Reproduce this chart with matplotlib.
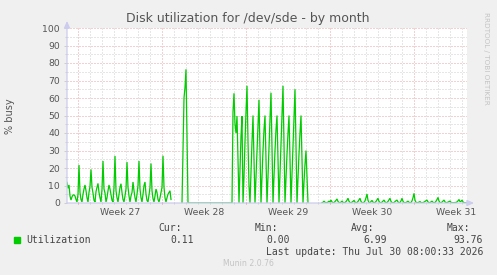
import numpy as np
import matplotlib
matplotlib.use("Agg")
import matplotlib.pyplot as plt
import matplotlib.transforms as mtransforms

# ---------------- data (2-hour consolidated samples, % busy) ----------------
step_hours = 2
start_hour = -22          # first sample, hours relative to start of Week 27

seg_week27 = [
    11.8, 8.4, 10.3, 4.0, 1.7, 3.5, 4.6, 4.6, 4.0, 2.0, 0.6, 5.0,
    21.7, 6.0, 2.0, 0.6, 5.0, 8.0, 10.3, 7.0, 3.0, 0.6, 6.0, 9.5,
    19.2, 9.0, 5.7, 1.5, 0.6, 6.5, 9.0, 11.2, 6.0, 3.0, 0.6, 8.0,
    24.0, 8.0, 5.7, 0.6, 3.0, 7.0, 10.3, 8.0, 4.6, 1.5, 0.6, 9.0,
    26.9, 7.0, 3.0, 0.6, 5.0, 9.0, 11.0, 6.0, 2.0, 0.6, 4.0, 8.0,
    23.4, 9.0, 4.0, 0.6, 4.0, 6.0, 12.0, 7.0, 3.0, 0.6, 5.0, 10.0,
    24.0, 8.0, 3.0, 0.6, 5.0, 10.0, 12.0, 5.0, 1.5, 0.6, 4.5, 9.0,
    22.6, 7.0, 2.5, 0.6, 4.0, 8.0, 6.0, 2.0, 0.6, 3.0, 6.0, 9.0,
    27.0, 9.0, 3.0, 0.6, 3.0, 5.0, 6.0, 7.0, 2.0,
]
gap_1 = [np.nan] * 10
seg_week28 = [0.0, 30.0, 60.0, 66.0, 76.4, 38.0, 0.0] + [0.0] * 43
seg_week29 = [
    0.0, 52.0, 62.7, 45.0, 40.0, 49.7, 25.0,
    0.0, 20.0, 38.0, 49.7,
    0.0, 15.0, 35.0, 52.0, 67.0, 35.0, 10.0,
    0.0, 18.0, 35.0, 50.0, 25.0,
    0.0, 15.0, 30.0, 45.0, 59.0, 30.0,
    0.0, 15.0, 30.0, 42.0, 50.0, 25.0,
    0.0, 15.0, 32.0, 48.0, 63.0, 32.0,
    0.0, 15.0, 30.0, 42.0, 50.0, 25.0,
    0.0, 17.0, 34.0, 50.0, 67.0, 34.0,
    0.0, 14.0, 28.0, 40.0, 50.0, 25.0,
    0.0, 16.0, 33.0, 49.0, 65.0, 32.0,
    0.0, 14.0, 28.0, 40.0, 50.0, 25.0,
    0.0, 12.0, 22.0, 30.0, 15.0, 0.0,
]
gap_2 = [np.nan] * 13
seg_week30_31 = [
    0.2, 0.4, 1.1, 0.4, 0.2, 0.3, 0.5, 1.1, 0.5, 1.7, 0.6, 0.2,
    0.3, 0.8, 1.5, 2.3, 0.9, 0.3, 0.2, 0.5, 1.1, 0.4, 0.2, 0.3,
    0.8, 1.6, 2.7, 1.0, 0.3, 0.2, 0.5, 0.9, 1.5, 0.5, 0.2, 0.3,
    0.9, 1.8, 2.7, 0.9, 0.3, 0.2, 0.4, 1.2, 3.0, 5.1, 1.5, 0.3,
    0.2, 0.8, 1.5, 0.5, 0.2, 0.3, 0.9, 1.8, 2.7, 0.9, 0.3, 0.2,
    0.5, 1.1, 1.7, 0.6, 0.2, 0.3, 0.9, 1.8, 2.7, 0.9, 0.3, 0.2,
    0.3, 0.8, 1.3, 1.7, 0.6, 0.2, 0.3, 1.2, 2.7, 1.0, 0.3, 0.2,
    0.3, 0.6, 1.1, 0.4, 0.2, 0.3, 1.2, 3.0, 5.5, 1.6, 0.4, 0.2,
    0.3, 0.5, 0.8, 0.3, 0.2, 0.3, 0.5, 0.9, 1.3, 1.7, 0.6, 0.2,
    0.3, 0.6, 1.1, 0.4, 0.2, 0.3, 1.0, 2.0, 3.2, 1.1, 0.3, 0.2,
    0.5, 1.1, 1.7, 0.6, 0.2, 0.3, 0.5, 0.8, 1.1, 0.4, 0.2, 0.2,
    0.2, 0.3, 0.3, 0.6, 1.2, 2.0, 0.8, 0.9, 1.7, 0.6, 0.2, 0.1,
    0.1, 0.11,
]

week_labels = ["Week 27", "Week 28", "Week 29", "Week 30", "Week 31"]
week_starts = [0, 168, 336, 504, 672]      # hours
y_ticks = list(range(0, 101, 10))

series_name = "Utilization"
stat_names = ["Cur:", "Min:", "Avg:", "Max:"]
stat_values = ["0.11", "0.00", "6.99", "93.76"]
last_update = "Last update: Thu Jul 30 08:00:33 2026"

values = np.array(seg_week27 + gap_1 + seg_week28 + seg_week29 + gap_2 + seg_week30_31, dtype=float)
hours = start_hour + step_hours * np.arange(len(values))

# ---------------- figure ----------------
W, H = 497, 275
fig = plt.figure(figsize=(W / 100, H / 100), dpi=100, facecolor="#f0f0f0")
ax = fig.add_axes([67 / W, 72 / H, 400 / W, 175 / H])
ax.set_facecolor("white")

ax.plot(hours, values, color="#00cc00", lw=0.9, solid_joinstyle="miter", zorder=3)

ax.set_xlim(hours[0], hours[-1])
ax.set_ylim(0, 100)

# grid
ax.set_xticks(week_starts)
ax.set_xticks(np.arange(0, hours[-1] + 1, 24) , minor=True)
ax.set_xticklabels([])
ax.set_yticks(y_ticks)
ax.set_yticks(np.arange(5, 100, 10), minor=True)
ax.set_yticklabels([str(v) for v in y_ticks], fontsize=6.7, color="#555555")

ax.grid(True, which="minor", color="#cfcfcf", lw=0.72, ls=(0, (1, 2)), zorder=1)
ax.grid(True, which="major", color="#e8a5a5", lw=0.72, ls=(0, (1, 2)), zorder=2)
ax.set_axisbelow(True)

ax.tick_params(axis="y", which="major", length=2, width=0.6, color="#c8c8c8", pad=3)
ax.tick_params(axis="y", which="minor", length=1.5, width=0.6, color="#c8c8c8")
ax.tick_params(axis="x", which="major", length=2, width=0.6, color="#e08080", direction="inout")
ax.tick_params(axis="x", which="minor", length=1.5, width=0.6, color="#c8c8c8", direction="inout")

for s in ax.spines.values():
    s.set_visible(False)

# axis lines with arrows
axis_col = "#ccccee"
ax.annotate("", xy=(0, 1 + 7 / 175), xytext=(0, 0), xycoords="axes fraction",
            arrowprops=dict(arrowstyle="-|>,head_length=0.4,head_width=0.18",
                            color=axis_col, lw=0.9, shrinkA=0, shrinkB=0), annotation_clip=False)
ax.annotate("", xy=(1 + 7 / 400, 0), xytext=(0, 0), xycoords="axes fraction",
            arrowprops=dict(arrowstyle="-|>,head_length=0.4,head_width=0.18",
                            color=axis_col, lw=0.9, shrinkA=0, shrinkB=0), annotation_clip=False)

# week labels, centred within each week
trans = mtransforms.blended_transform_factory(ax.transData, ax.transAxes)
for lab, ws in zip(week_labels, week_starts):
    ax.text(ws + 84, -9.5 / 175, lab, transform=trans, ha="center", va="center",
            fontsize=6.7, color="#555555", clip_on=False)

# texts
def fx(px):
    return px / W

def fy(py):
    return 1 - py / H

fig.text(fx(247.5), fy(18.5), "Disk utilization for /dev/sde - by month",
         ha="center", va="center", fontsize=9, color="#555555")
fig.text(fx(10), fy(116), "% busy", rotation=90, ha="center", va="center",
         fontsize=7, color="#555555")
fig.text(fx(486), fy(58), "RRDTOOL / TOBI OETIKER", rotation=-90, ha="center",
         va="center", fontsize=5.2, color="#c4c4c4")

mono = "DejaVu Sans Mono"
fig.patches.append(matplotlib.patches.Rectangle((fx(14), fy(242.7)), 6 / W, 6 / H,
                                                transform=fig.transFigure, color="#00cc00"))
fig.text(fx(26.5), fy(239.8), series_name, ha="left", va="center",
         fontsize=7, family=mono, color="#444444")
head_left = [158.7, 254.3, 351, 447]
val_right = [193.5, 290, 386.7, 483]
for name, hx in zip(stat_names, head_left):
    fig.text(fx(hx), fy(228.3), name, ha="left", va="center", fontsize=7,
             family=mono, color="#444444")
for val, vx in zip(stat_values, val_right):
    fig.text(fx(vx), fy(239.8), val, ha="right", va="center", fontsize=7,
             family=mono, color="#444444")
fig.text(fx(483), fy(251.8), last_update, ha="right", va="center", fontsize=7,
         family=mono, color="#444444")
fig.text(fx(248), fy(264), "Munin 2.0.76", ha="center", va="center", fontsize=5.6,
         color="#c4c4c4")

fig.savefig("out.png", dpi=100, facecolor=fig.get_facecolor())
